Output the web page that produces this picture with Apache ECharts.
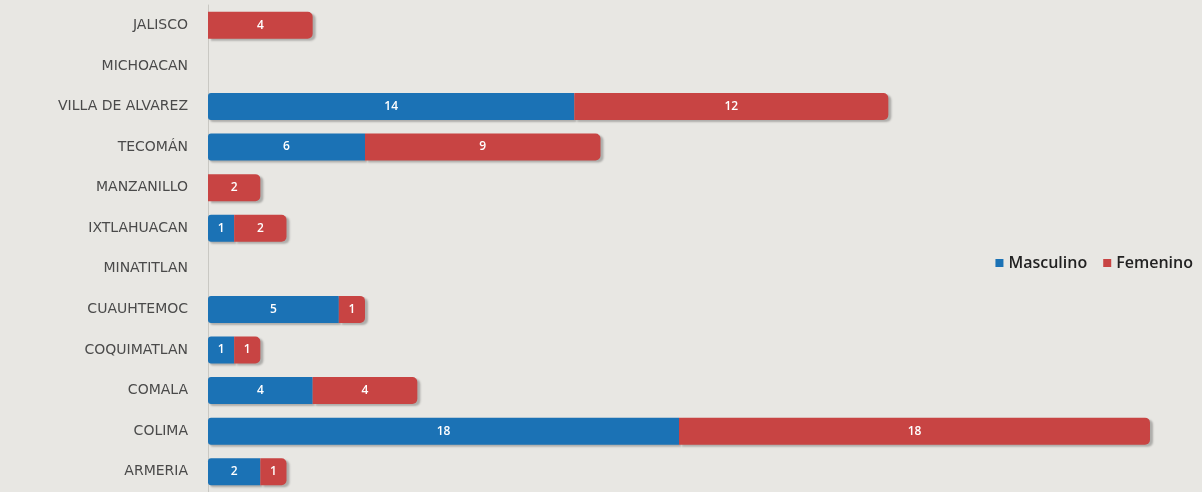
<!DOCTYPE html>
<html>
<head>
<meta charset="utf-8">
<script src="https://cdn.jsdelivr.net/npm/echarts@6/dist/echarts.min.js"></script>
<style>
  html, body { margin: 0; padding: 0; background: #e8e7e3; }
  #chart { width: 1202px; height: 492px; }
</style>
</head>
<body>
<div id="chart"></div>
<script>
  // municipios, de arriba hacia abajo
  var municipios = ["JALISCO", "MICHOACAN", "VILLA DE ALVAREZ", "TECOMÁN", "MANZANILLO", "IXTLAHUACAN",
    "MINATITLAN", "CUAUHTEMOC", "COQUIMATLAN", "COMALA", "COLIMA", "ARMERIA"];
  var masculino = [0, 0, 14, 6, 0, 1, 0, 5, 1, 4, 18, 2];
  var femenino = [4, 0, 12, 9, 2, 2, 0, 1, 1, 4, 18, 1];

  var chart = echarts.init(document.getElementById('chart'));

  // etiqueta blanca al centro, sin mostrar ceros
  function etiqueta(p) {
    return p.value ? p.value : '';
  }

  var option = {
    backgroundColor: '#e8e7e3',
    grid: {
      left: 208,
      right: 52,
      top: 5,
      height: 492
    },
    legend: {
      data: ['Masculino', 'Femenino'],
      right: 4,
      top: 250,
      itemWidth: 8,
      itemHeight: 8,
      itemGap: 16,
      icon: 'rect',
      textStyle: {
        color: '#222',
        fontFamily: 'Open Sans',
        fontSize: 16,
        fontWeight: 600
      }
    },
    xAxis: {
      type: 'value',
      min: 0,
      max: 36,
      show: false
    },
    yAxis: {
      type: 'category',
      inverse: true,
      data: municipios,
      axisLine: {
        lineStyle: { color: '#c9c8c3' }
      },
      axisTick: { show: false },
      axisLabel: {
        color: '#4a4a4a',
        fontFamily: 'DejaVu Sans',
        fontSize: 14,
        margin: 20,
        padding: [8, 0, 0, 0]
      }
    },
    series: [{
      name: 'Masculino',
      type: 'bar',
      stack: 'total',
      barWidth: 27,
      data: masculino,
      itemStyle: {
        color: '#1b72b5',
        borderRadius: [3, 0, 0, 3],
        shadowColor: 'rgba(0,0,0,0.25)',
        shadowOffsetX: 2,
        shadowOffsetY: 2,
        shadowBlur: 2
      },
      label: {
        show: true,
        position: 'inside',
        color: '#fff',
        fontFamily: 'Open Sans',
        fontSize: 12,
        fontWeight: 600,
        formatter: etiqueta
      }
    }, {
      name: 'Femenino',
      type: 'bar',
      stack: 'total',
      barWidth: 27,
      data: femenino,
      itemStyle: {
        color: '#c84443',
        borderRadius: [0, 5, 5, 0],
        shadowColor: 'rgba(0,0,0,0.25)',
        shadowOffsetX: 3,
        shadowOffsetY: 2,
        shadowBlur: 2
      },
      label: {
        show: true,
        position: 'inside',
        color: '#fff',
        fontFamily: 'Open Sans',
        fontSize: 12,
        fontWeight: 600,
        formatter: etiqueta
      }
    }]
  };

  chart.setOption(option);
</script>
</body>
</html>
